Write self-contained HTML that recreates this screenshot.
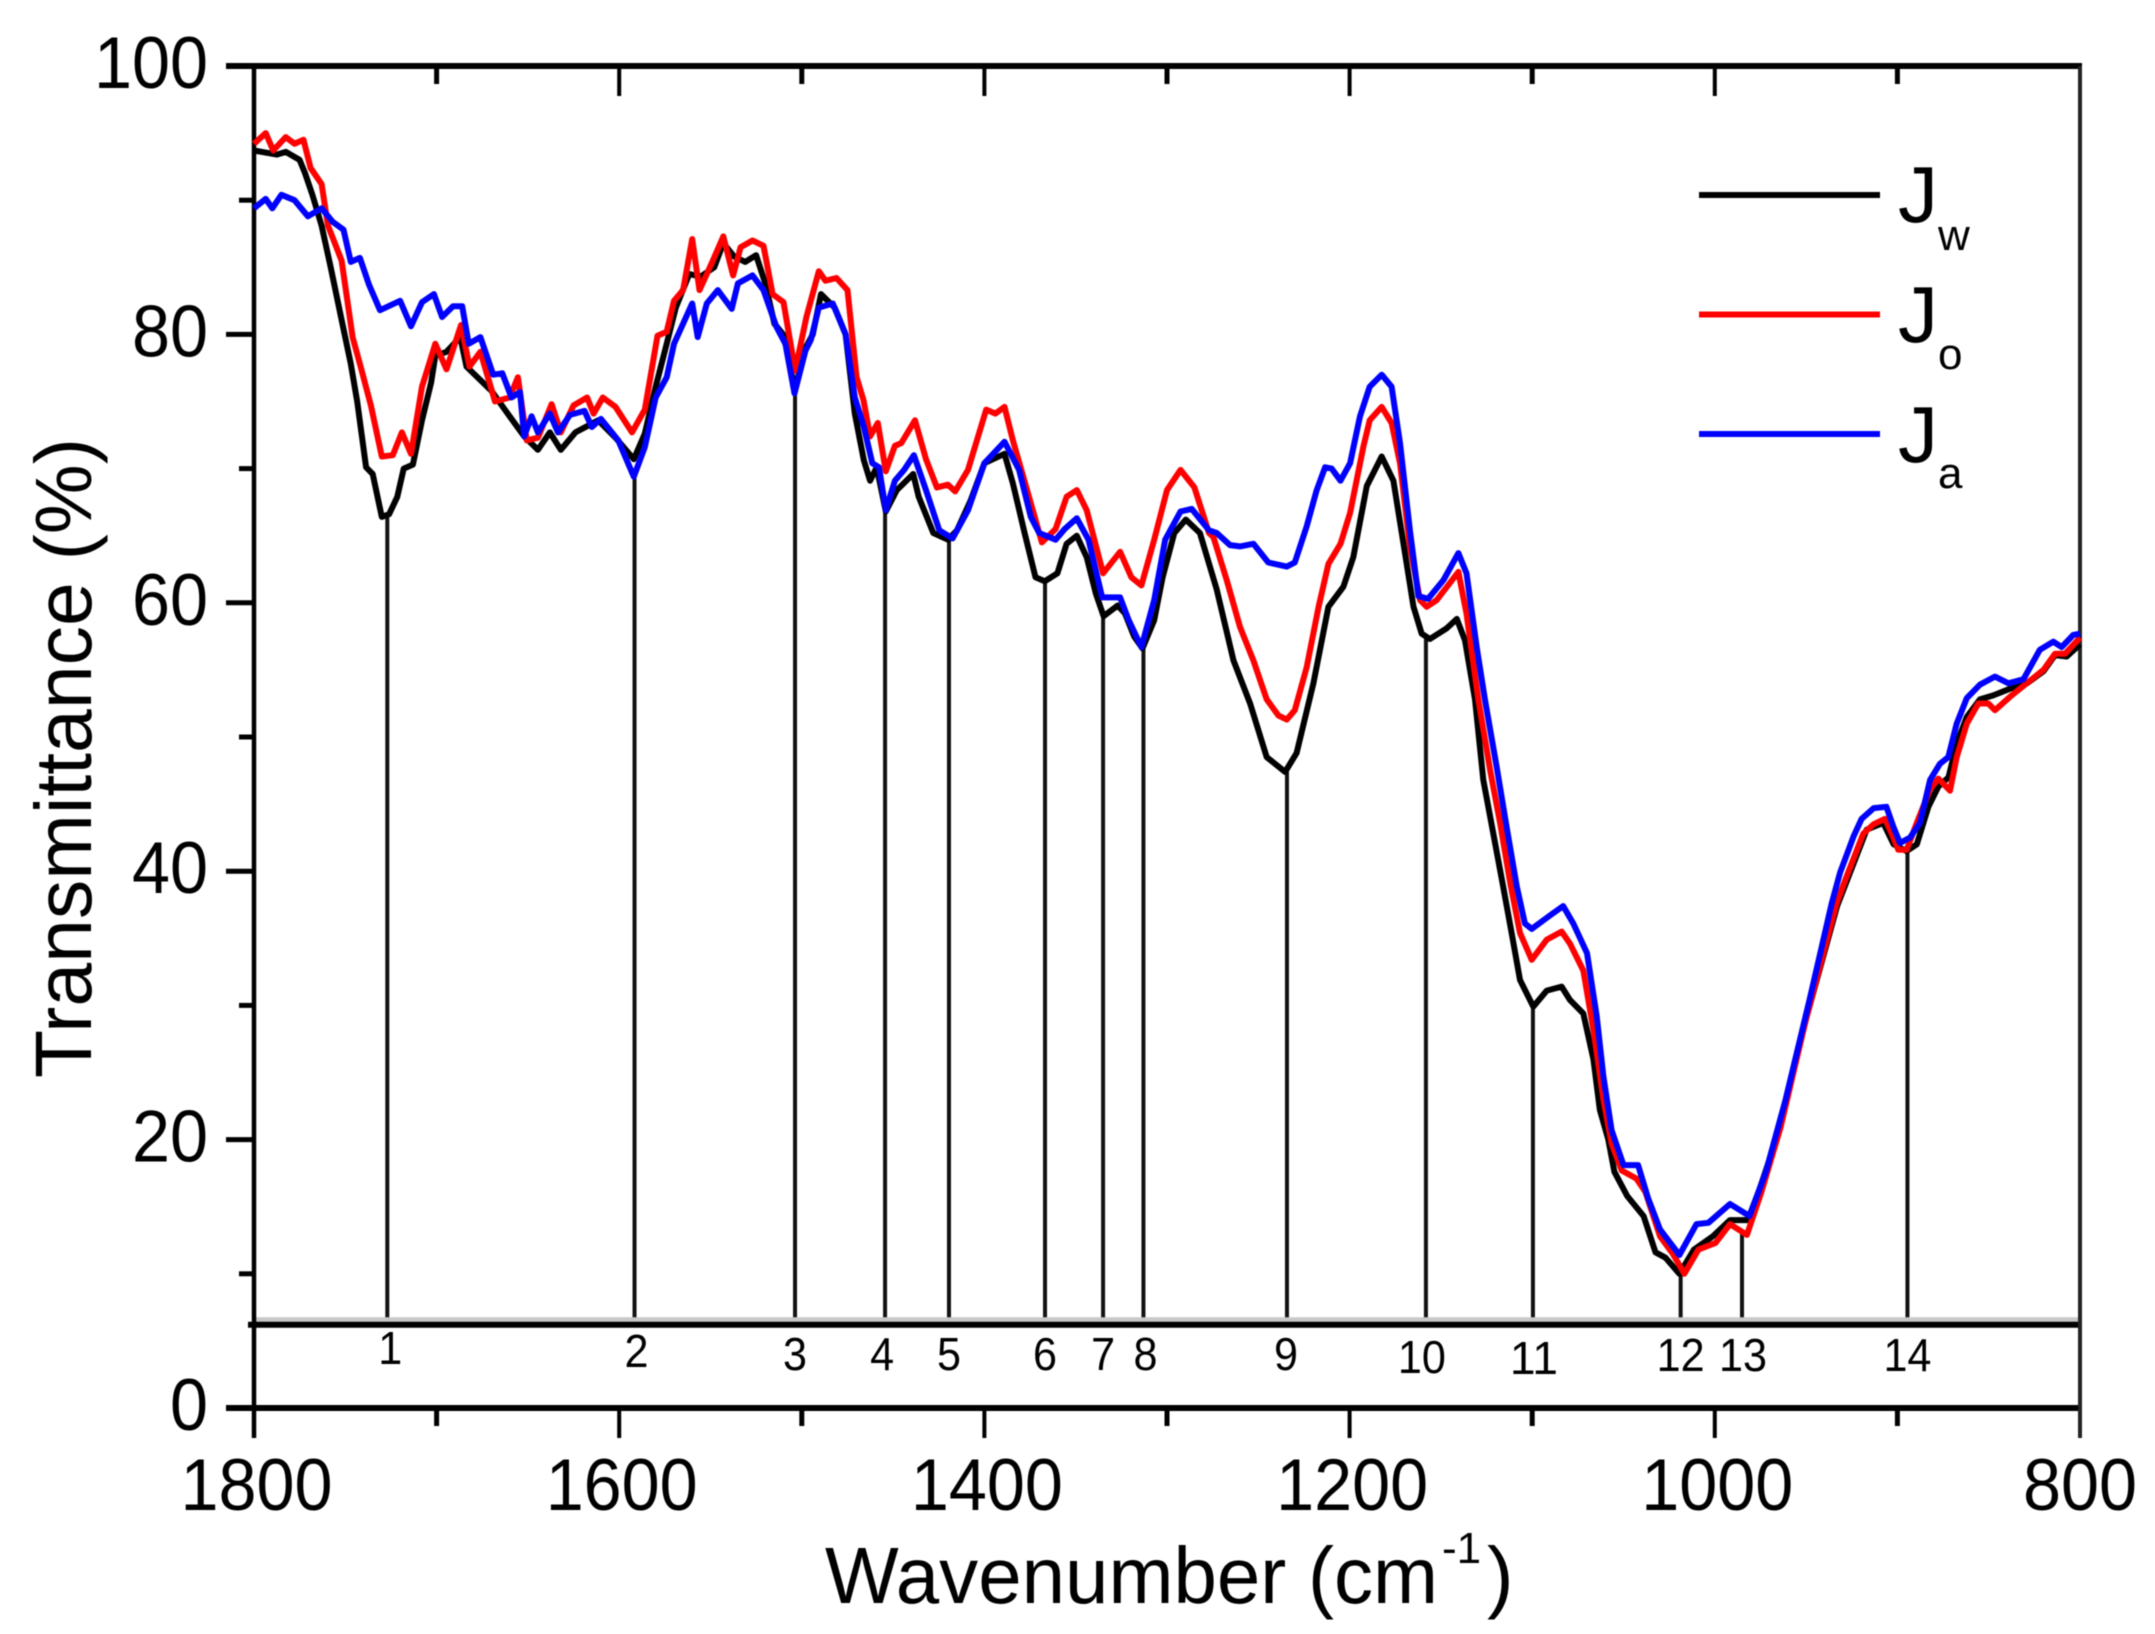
<!DOCTYPE html>
<html lang="en">
<head>
<meta charset="utf-8">
<title>FTIR transmittance spectra</title>
<style>
html,body{margin:0;padding:0;background:#fff;width:2155px;height:1634px;overflow:hidden}
svg{display:block;filter:blur(0.6px)}
text{font-family:"Liberation Sans",Arial,sans-serif;fill:#000}
</style>
</head>
<body>
<svg id="chart" xmlns="http://www.w3.org/2000/svg" width="2155" height="1634" viewBox="0 0 2155 1634"></svg>
<script>
const xTickValues = [1800,1700,1600,1500,1400,1300,1200,1100,1000,900,800];
const xTickLabels = {1800:"1800",1600:"1600",1400:"1400",1200:"1200",1000:"1000",800:"800"};
const yTickValues = [100,90,80,70,60,50,40,30,20,10,0];
const yTickLabels = {100:"100",80:"80",60:"60",40:"40",20:"20",0:"0"};
const baselineValue = 6.2;

const jwWavenumbers = [1800,1787.5,1782.6,1775,1772,1768,1763,1758,1751,1747,1743.5,1738.6,1735,1730,1726,1721.5,1718,1713,1708,1703,1700.7,1694.6,1687,1683.6,1670,1660,1652,1644.5,1638,1632,1624,1611.5,1602,1592,1586,1580,1574,1569,1561.6,1555.5,1548,1543,1537,1531,1525,1520,1515,1509,1504,1498,1494,1489.5,1482,1476,1471,1466,1462.6,1459,1454,1448,1439,1436,1428,1420,1415,1407.6,1400,1389,1384.4,1378,1372,1367,1360,1355,1349.4,1344,1339,1334.7,1327,1323,1318,1313.4,1307,1302.4,1296,1289.7,1282,1272.8,1263.6,1254.5,1245.4,1235.3,1229,1219.8,1211.6,1203.4,1198,1190.6,1182.4,1176,1170.5,1165,1160.5,1156,1146.8,1141.3,1136.8,1131.3,1126.8,1121.3,1115.8,1111.3,1106.7,1099.4,1092,1083.9,1079.3,1072,1066.5,1062.9,1058.3,1055,1048,1039,1032.5,1027,1019.4,1011.4,1001,991.7,982,976,966.6,950,933,916.8,907.7,902,895,889.4,883,877.6,872,867.5,862,854.8,847.5,838.3,829,820,813.7,807.3,800];
const jwTransmittance = [93.7,93.4,93.6,93,92,90.4,88.1,85,80.4,77.8,75,70.1,69.6,66.4,66.6,67.9,70,70.3,73.6,76.4,78.4,78.7,79.8,77.6,75.8,73.9,72.4,71.4,72.7,71.4,72.7,73.6,72.3,70.7,72.6,76.1,79.3,82,84.5,84.3,85,86.8,85.8,85.4,85.9,83.8,80.8,79.8,75.8,79,80,83,82,80,74.1,70.6,69.1,70.1,66.8,68.4,69.6,67.9,65.2,64.7,65.4,67.6,70.4,71.1,68.9,65.2,61.9,61.6,62.2,64.4,65,63.4,60.7,59,59.8,59.2,57.5,56.6,58.7,61.9,65.2,66.2,65.2,61,55.7,52.5,48.5,47.4,48.8,54,59.7,61.2,63.4,68.7,70.9,69.1,64.4,59.7,57.7,57.3,58.1,58.8,57.2,52.8,46.8,42.8,38.8,35.4,31.9,29.9,31.1,31.4,30.4,29.4,26,22.2,20,17.6,15.8,14.3,11.6,11.2,10,11.8,12.8,14,14,16.1,19.9,29,37.4,43.1,43.6,42,41.5,42,44.8,46.3,47,49.5,51.5,52.8,53.1,53.6,54,54.9,56.1,56,56.9];

const joWavenumbers = [1800,1793.6,1789.5,1782.6,1777.8,1772.9,1769,1763,1759.5,1752,1746,1741,1736,1730,1724,1719,1714,1708,1700.7,1694.6,1686.6,1682,1676,1668,1660,1655.5,1650.6,1644.5,1637,1632,1625,1617.6,1614,1609,1602,1593,1586,1579,1574,1570,1565,1560,1556,1549,1543,1537.6,1533.5,1527,1521,1516,1510,1503.6,1497.5,1490.7,1487,1481,1475,1470,1466.2,1462.6,1458.4,1454,1449,1445.5,1438,1432,1426,1420,1416,1409,1399,1394,1389,1384.4,1376,1368.5,1361,1355,1349.4,1344,1335,1325.7,1319.5,1314,1307,1300,1292.6,1285,1277,1274.6,1267.3,1260,1252.7,1245.4,1239,1234.4,1230,1223.5,1217,1211.6,1205,1199.7,1192.5,1189,1182.4,1177,1172.4,1167,1161.4,1157.8,1152.3,1140.4,1136,1129.5,1123,1117.6,1112,1106.7,1100.3,1092,1083.9,1079.3,1072,1066.5,1061,1056.5,1051,1043,1038,1030,1023,1016.7,1009,999.6,991.7,982.4,974.5,964,950,933.3,927.8,918.7,913,906.8,903.1,899.5,894.9,889.4,882.1,877.6,871.2,867.5,862,855.7,850.2,846.6,838.3,829.2,820,813.7,808.2,800];
const joTransmittance = [94.2,95,93.7,94.7,94.2,94.5,92.4,91.2,88.1,85.5,79.8,77.3,74.7,70.9,71,72.7,71.1,76.1,79.3,77.4,80.7,77.6,78.7,75,75.3,76.8,72.1,72.3,74.8,72.7,74.7,75.3,74.1,75.3,74.6,72.7,74.4,79.9,80.2,82.5,83.3,87.1,83.3,85.4,87.3,84.4,86.5,87,86.6,83,82.4,77.3,81.3,84.7,84,84.2,83.3,76.8,75.1,72.4,73.4,69.8,71.7,71.9,73.6,70.7,68.6,68.8,68.3,69.9,74.4,74.1,74.6,72.1,68.1,64.5,65.5,67.9,68.4,66.9,62.2,63.8,61.9,61.3,64.7,68.4,69.9,68.6,65.2,64.9,61.7,58.2,55.7,52.8,51.6,51.3,52,55.2,59.7,62.9,64.4,66.7,71.6,73.6,74.6,73.4,70.4,64.2,60.2,59.7,60.2,62.3,59.2,52.8,47.5,43.6,39.1,35.4,33.4,34.9,35.5,34.6,32.6,28.2,23,19.7,17.7,17.1,16.1,12.8,11.5,10,11.8,12.3,13.7,12.9,16.1,20.9,29,37.6,39.6,42.8,43.5,43.9,42.8,41.6,41.6,43.6,46.1,46.9,46,48.5,51,52.5,52.5,52,53,54,55,56.2,56.2,57.4];

const jaWavenumbers = [1800,1793.6,1790,1785,1777.8,1770.5,1763,1757,1751,1747,1742,1737,1731,1720,1714,1708,1701.5,1697,1691,1686,1682.4,1676,1669,1664,1659,1654.3,1652,1648,1644.5,1638,1633.5,1627,1619,1615,1610,1600.5,1592,1586,1580,1574,1570,1560,1557,1552,1546,1538.4,1535,1527,1521,1514,1509,1504,1498,1495,1490.7,1483,1476,1471,1466,1461.4,1457.7,1454,1449,1444,1438.6,1432,1424.7,1417.4,1409,1400,1389,1381,1374.6,1370,1361,1356,1349.4,1343,1335.5,1325.7,1321,1314,1307,1301,1292.6,1286.5,1277,1272.8,1265.5,1260,1252.7,1244.5,1234.4,1230,1223.5,1218,1213.4,1209.8,1205,1199.7,1194.3,1189,1182.4,1177,1172.4,1167,1162.3,1157,1148.6,1140.4,1136,1130.4,1125.9,1119.5,1114,1108.5,1104,1100.3,1090.3,1083,1077.5,1070,1064.7,1061,1056.5,1050,1042,1036.5,1030,1019.4,1010,1003.5,991.7,981,972,961.3,948,936,931.4,924,919.6,913,906,902.2,898.6,893.1,887.6,882.1,876.7,872.1,867.5,862,854.8,846.6,839.2,831,822,814.6,810,803.7,800];
const jaTransmittance = [89.4,90.1,89.4,90.4,90,88.8,89.4,88.4,87.8,85.4,85.7,83.7,81.8,82.5,80.6,82.4,83,81.3,82.1,82.1,79.3,79.8,77,77.1,75.3,75.7,72.4,73.9,72.7,74.1,72.7,74,74.3,73.1,73.7,72.1,69.4,71.6,75.3,76.8,79.3,82.3,79.8,82.3,83.3,81.9,83.8,84.4,83.3,80.6,79.3,75.6,78.8,79.6,82,82.3,80,75.3,73.1,70.4,70.1,66.9,69.1,69.9,71,68.4,65.4,64.8,66.9,70.4,72,69.9,66.4,65.2,64.7,65.5,66.3,64.7,60.4,60.4,58.7,56.7,60.2,64.7,66.8,67,65.4,65.2,64.3,64.2,64.4,63,62.7,63,65.7,68.4,70.1,70,69.1,70.4,73.9,76.1,77,76.1,71.9,65.4,60.5,60.3,61.7,63.7,62.2,56.7,52.8,47.8,43.3,38.9,36.1,35.7,36.7,37.4,36.1,33.9,29.2,24.7,20.7,18.1,18.1,15.6,13.3,11.4,13.7,13.8,15.2,14.3,17.6,22.95,30.5,37.6,39.9,42.6,43.9,44.7,44.8,43.3,42.1,42.5,43.6,46.8,48,48.5,51,52.9,53.9,54.5,54,54.3,56.5,57.1,56.7,57.6,57.7];

const peakLabels = ["1","2","3","4","5","6","7","8","9","10","11","12","13","14"];
const peakWavenumbers = [1727,1591.6,1503.7,1454.4,1419.4,1366.8,1335,1312.9,1234.3,1158.2,1099.6,1018.7,985.1,894.5];
const peakTransmittance = [66.5,69.5,75.5,66.9,64.8,61.6,59,56.6,47.4,57.3,29.9,10,13,41.5];

const legendNames = ["w","o","a"];
const seriesColors = ["#000000","#ff0000","#0000ff"];

const svg = document.getElementById('chart');
const NS = 'http://www.w3.org/2000/svg';
const X0 = 254, X1 = 2080, Y100 = 66, Y0 = 1408;
function xScale(w){ return X0 + (1800 - w) * (X1 - X0) / 1000; }
function yScale(v){ return Y0 - v * (Y0 - Y100) / 100; }
function make(tag, attrs){
  const el = document.createElementNS(NS, tag);
  for (const k in attrs) el.setAttribute(k, attrs[k]);
  svg.appendChild(el);
  return el;
}
function segment(x1, y1, x2, y2, color, width){
  return make('line', {x1:x1, y1:y1, x2:x2, y2:y2, stroke:color, 'stroke-width':width});
}
function label(str, x, y, size, anchor, perChar){
  const t = make('text', {x:x, y:y, 'font-size':size, 'text-anchor':anchor});
  t.textContent = str;
  if (perChar) {
    t.setAttribute('textLength', str.length * perChar);
    t.setAttribute('lengthAdjust', 'spacingAndGlyphs');
  }
  return t;
}

/* peak drop lines */
peakWavenumbers.forEach(function(w, i){
  const yTop = yScale(peakTransmittance[i]);
  const el = segment(xScale(w), yTop, xScale(w), yScale(baselineValue), '#111', 4);
  
  
});

/* baseline band */
const band = segment(X0, yScale(baselineValue) - 5, X1, yScale(baselineValue) - 5, '#c8c8c8', 5);


const base = segment(248, yScale(baselineValue), X1, yScale(baselineValue), '#000', 6);



/* axes frame */
const topAxis = segment(226, Y100, X1 + 2, Y100, '#000', 6);


const bottomAxis = segment(226, Y0, X1 + 2, Y0, '#000', 6);


const leftAxis = segment(X0, Y100, X0, 1438, '#000', 4.5);


const rightAxis = segment(X1, Y100, X1, 1438, '#222', 4);



/* x ticks */
xTickValues.forEach(function(w){
  const major = xTickLabels[w] !== undefined;
  const x = xScale(w);
  if (w !== 1800 && w !== 800) {
    const up = segment(x, Y100, x, Y100 + (major ? 30 : 18), '#000', major ? 4 : 5);
    
    
    const dn = segment(x, Y0, x, Y0 + (major ? 30 : 18), '#000', major ? 4 : 5);
    
    
  }
  if (major) {
    const t = label(xTickLabels[w], x + (w === 800 ? 0 : 2.5), 1510, 73, 'middle', 38);
    
    
  }
});

/* y ticks */
yTickValues.forEach(function(v){
  const major = yTickLabels[v] !== undefined;
  const y = yScale(v);
  if (!major) {
    const tk = segment(239, y, X0, y, '#000', 5);
    
    
  } else if (v !== 100 && v !== 0) {
    const tk = segment(226, y, X0, y, '#000', 5);
    
    
  }
  if (major) {
    const t = label(yTickLabels[v], 208, y + 22, 73, 'end', 38);
    
    
  }
});

/* series */
function drawSeries(wn, tr, color){
  const pts = wn.map(function(w, i){ return xScale(w).toFixed(1) + ',' + yScale(tr[i]).toFixed(1); }).join(' ');
  return make('polyline', {points:pts, fill:'none', stroke:color, 'stroke-width':6, 'stroke-linejoin':'round', 'stroke-linecap':'butt'});
}
const lineJw = drawSeries(jwWavenumbers, jwTransmittance, seriesColors[0]);


const lineJo = drawSeries(joWavenumbers, joTransmittance, seriesColors[1]);


const lineJa = drawSeries(jaWavenumbers, jaTransmittance, seriesColors[2]);



/* peak labels */
const peakLabelOffsets = {1:[3,1364],2:[2,1367],3:[0,1370],4:[-3,1370],5:[0,1370],6:[0,1370],7:[0,1370],8:[2,1370],9:[-1,1370],10:[-4,1373],11:[1,1374],12:[0,1371],13:[1,1371],14:[0,1371]};
peakLabels.forEach(function(s, i){
  const off = peakLabelOffsets[s];
  const t = label(s, xScale(peakWavenumbers[i]) + off[0], off[1], 46, 'middle', 24);
  
  
});

/* legend */
legendNames.forEach(function(n, i){
  const yLine = 195 + i * 119.5;
  const ln = segment(1699, yLine, 1880, yLine, seriesColors[i], 6);
  
  
  const j = label('J', 1898, 222 + i * 120, 80, 'start');
  
  
  const sub = label(n, 1938, 250 + i * 119, 44, 'start');
  
  
});

/* axis titles */
const yTitle = make('text', {x:0, y:0, 'font-size':80, 'text-anchor':'start', transform:'translate(91,1078) rotate(-90)', textLength:640, lengthAdjust:'spacingAndGlyphs'});
yTitle.textContent = 'Transmittance (%)';



const xTitle = label('Wavenumber (cm', 825, 1603, 80, 'start');
xTitle.setAttribute('textLength', 613);
xTitle.setAttribute('lengthAdjust', 'spacingAndGlyphs');


const xSup = label('-1', 1442, 1563, 44, 'start');


const xEnd = label(')', 1487, 1603, 80, 'start');


</script>
</body>
</html>
